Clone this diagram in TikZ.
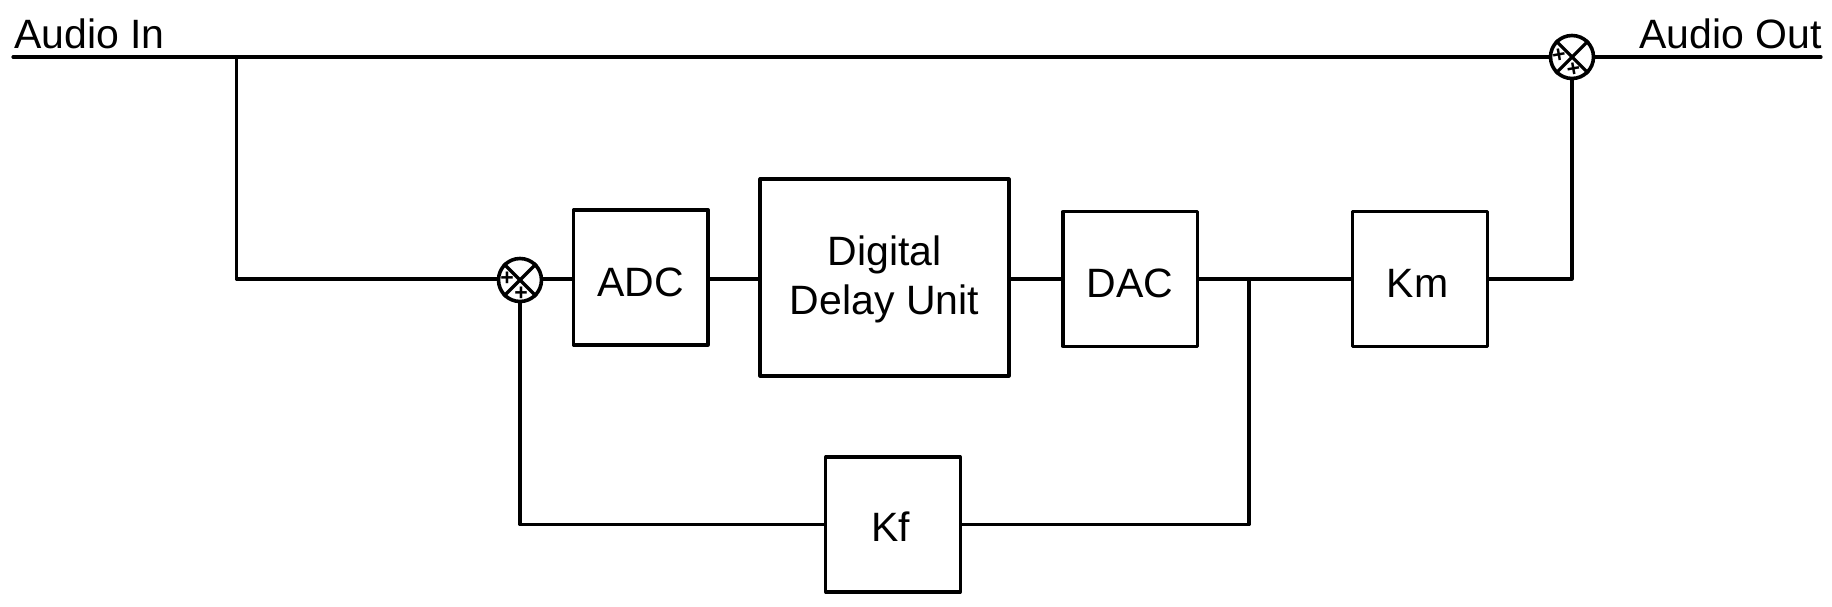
\documentclass[tikz,border=0pt]{standalone}
\usepackage{fontspec}
\setmainfont{Liberation Sans}
\newcommand{\lowered}[2]{\raisebox{-#1pt}[0pt][0pt]{#2}}
\tikzset{
  x=1pt,y=-1pt,
  wire/.style={line width=3.2pt,line cap=round,line join=round,black},
  blockbox/.style={draw,line width=3.2pt,inner sep=0pt,align=center,font=\fontsize{41}{48.5}\selectfont,line join=round},
  sumcirc/.style={draw,circle,line width=3.6pt,minimum size=43pt,inner sep=0pt,fill=white},
  lbl/.style={inner sep=0pt,font=\fontsize{41}{48}\selectfont},
  plusmark/.style={inner sep=0pt,font=\fontsize{23}{23}\bfseries\selectfont}
}
\begin{document}
\begin{tikzpicture}
\useasboundingbox (0,0) rectangle (1832,607);
% sums
\node[sumcirc] (s1) at (520,280) {};
\node[sumcirc] (s2) at (1572,57) {};
\foreach \s in {s1,s2}{
  \draw[line width=3.2pt] (\s.north west) -- (\s.south east);
  \draw[line width=3.2pt] (\s.north east) -- (\s.south west);
}
\node[plusmark] (p1a) at (507,279) {+};
\node[plusmark] (p1b) at (521,293.5) {+};
\node[plusmark,rotate=10] (p2a) at (1559,55.5) {+};
\node[plusmark,rotate=10] (p2b) at (1573.5,70) {+};
% blocks
\node[blockbox,minimum width=134.5pt,minimum height=135pt] (adc) at (640.8,277.5) {\lowered{18.5}{ADC}};
\node[blockbox,minimum width=249pt,minimum height=197pt] (ddu) at (884.5,277.5) {\rule{0pt}{34pt}Digital\\Delay Unit};
\node[blockbox,minimum width=134.5pt,minimum height=134.5pt] (dac) at (1130.2,279) {\lowered{18.4}{DAC}};
\node[blockbox,minimum width=135pt,minimum height=134.5pt] (km) at (1419.7,279) {\lowered{18.4}{\hspace{-4pt}Km}};
\node[blockbox,minimum width=134.5pt,minimum height=135pt] (kf) at (893,524.5) {\lowered{17}{\hspace{-4pt}Kf}};
% labels
\node[lbl,anchor=base west] (ain) at (14,49) {Audio In};
\node[lbl,anchor=base east] (aout) at (1822,49) {Audio Out};
% free ends and junctions
\coordinate (inl) at (13,57);
\coordinate (outr) at (1821,57);
\coordinate (j1) at (236.5,57);
\coordinate (c1) at (236.5,279);
\coordinate (j2) at (1249,279);
\coordinate (c2) at (1249,524.5);
\coordinate (c3) at (520,524.5);
\coordinate (c4) at (1572,279);
% wires
\draw[wire] (inl) -- (s2.west);
\draw[wire] (s2.east) -- (outr);
\draw[wire] (j1) -- (c1) -- (s1.west |- c1);
\draw[wire] (s1.east |- c1) -- (adc.west |- c1);
\draw[wire] (adc.east |- c1) -- (ddu.west |- c1);
\draw[wire] (ddu.east |- c1) -- (dac.west |- c1);
\draw[wire] (dac.east |- c1) -- (km.west |- c1);
\draw[wire] (km.east |- c1) -- (c4) -- (s2.south);
\draw[wire] (j2) -- (c2) -- (kf.east);
\draw[wire] (kf.west) -- (c3) -- (s1.south);
\end{tikzpicture}
\end{document}
